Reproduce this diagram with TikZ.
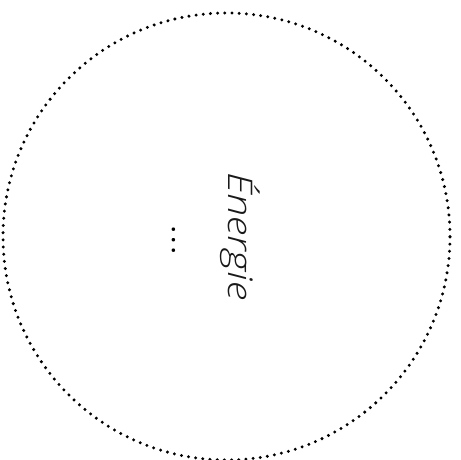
\documentclass[tikz,border=0pt]{standalone}
\usepackage{fontspec}
\setmainfont{Open Sans}[UprightFont=* Light, ItalicFont=* Light Italic]
\newfontfamily\widelight{Open Sans}[UprightFont=* Light,
  ItalicFont=* Light Italic, FakeStretch=1.22]
\usetikzlibrary{positioning}

\begin{document}
\begin{tikzpicture}[x=1pt, y=1pt,
    ring/.style={circle, draw=black, line width=3.3pt, line cap=round,
                 dash pattern=on 0pt off 7.2pt, inner sep=0pt},
    word/.style={font=\widelight\fontsize{34}{40}\selectfont\itshape,
                 inner sep=0pt, rotate=-90, text=black!90},
    dots/.style={font=\widelight\fontsize{36}{42}\selectfont, inner sep=0pt,
                 rotate=-90, text=black}
  ]
  \useasboundingbox (0,0) rectangle (461,459);

  % Dotted ring
  \node[ring, minimum size=447pt] (disc) at (226.5,222.5) {};

  % Label
  \node[word, anchor=base west] (energy) at (228,287) {Énergie};
  \node[dots, anchor=base] (more) at (172,219) {…};
\end{tikzpicture}
\end{document}
